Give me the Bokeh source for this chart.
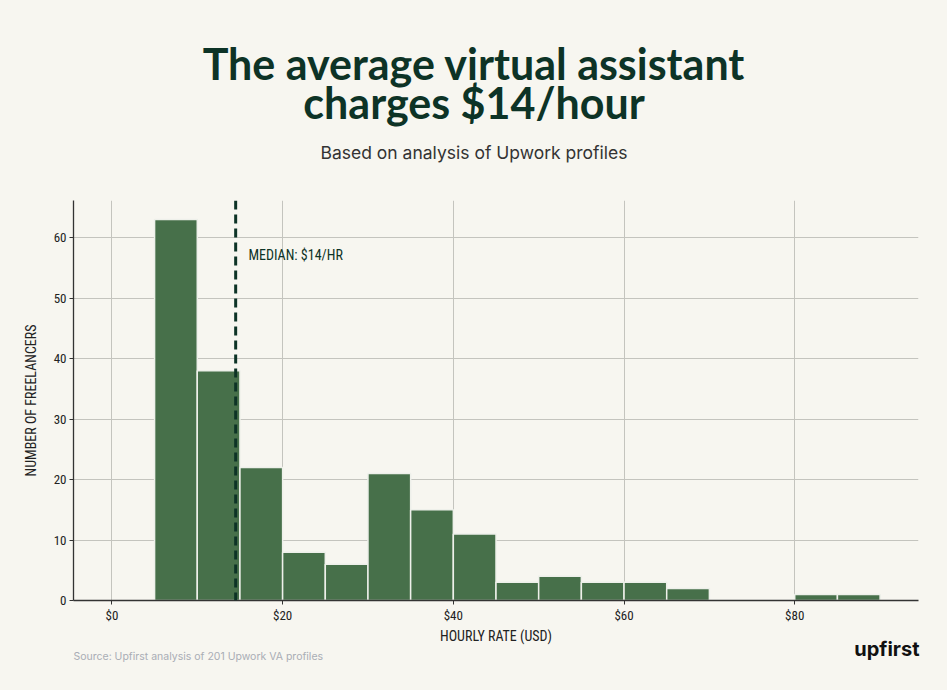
from bokeh.plotting import figure
from bokeh.models import Span, Label, FixedTicker, Range1d
from bokeh.layouts import column
from bokeh.embed import file_html
from bokeh.resources import INLINE

# ---- data ----
bin_left = [5, 10, 15, 20, 25, 30, 35, 40, 45, 50, 55, 60, 65, 70, 75, 80, 85]
bin_right = [10, 15, 20, 25, 30, 35, 40, 45, 50, 55, 60, 65, 70, 75, 80, 85, 90]
counts = [63, 38, 22, 8, 6, 21, 15, 11, 3, 4, 3, 3, 2, 0, 0, 1, 1]
median_rate = 14.5
median_text = "MEDIAN: $14/HR"
x_ticks = [0, 20, 40, 60, 80]
x_tick_labels = ["$0", "$20", "$40", "$60", "$80"]
y_ticks = [0, 10, 20, 30, 40, 50, 60]
x_label = "HOURLY RATE (USD)"
y_label = "NUMBER OF FREELANCERS"
title_line1 = "The average virtual assistant"
title_line2 = "charges $14/hour"
subtitle = "Based on analysis of Upwork profiles"
source = "Source: Upfirst analysis of 201 Upwork VA profiles"
logo = "upfirst"

BG = "#f7f6f0"
DARK = "#0d3326"
NARROW = "'Roboto Condensed', 'Liberation Sans Narrow', 'DejaVu Sans Condensed', sans-serif"

W = 947
TOP_H, MAIN_H = 200, 425
BOT_H = 690 - TOP_H - MAIN_H
L, R = 73, 29


def strip(h):
    f = figure(width=W, height=h, output_backend="svg", toolbar_location=None,
               x_range=Range1d(0, W), y_range=Range1d(h, 0), title=None,
               x_axis_type=None, y_axis_type=None, min_border=0,
               background_fill_color=BG, border_fill_color=BG, frame_align=False)
    f.outline_line_color = None
    f.grid.visible = False
    return f


def text_at(fig, x, baseline, text, size, **kw):
    # place text so its alphabetic baseline lands at the given canvas row
    fig.add_layout(Label(x=x, y=baseline - 0.4 * size, text=text,
                         text_font_size=f"{size}px", text_baseline="alphabetic", **kw))


# ---- header ----
top = strip(TOP_H)
text_at(top, W / 2, 80, title_line1, 43, text_font="Lato", text_font_style="bold",
        text_color=DARK, text_align="center")
text_at(top, W / 2, 119, title_line2, 43, text_font="Lato", text_font_style="bold",
        text_color=DARK, text_align="center")
text_at(top, W / 2, 159, subtitle, 17.5, text_font="Inter",
        text_color="#333333", text_align="center")

# ---- main chart ----
p = figure(width=W, height=MAIN_H, output_backend="svg", toolbar_location=None,
           x_range=Range1d(-4.5, 94.5), y_range=Range1d(0, 66.15),
           min_border_left=L, min_border_right=R, min_border_top=0, min_border_bottom=MAIN_H - 400,
           background_fill_color=BG, border_fill_color=BG, frame_align=False)
p.outline_line_color = None

p.quad(left=bin_left, right=bin_right, top=counts, bottom=0,
       fill_color="#47704a", fill_alpha=1.0, line_color="#eef0ea", line_width=1.5)

p.add_layout(Span(location=median_rate, dimension="height", line_color=DARK,
                  line_width=3, line_dash="9 5"))

p.add_layout(Label(x=median_rate + 1.5, y=57.2, text=median_text, text_font=NARROW,
                   text_font_size="14px", text_color=DARK, text_baseline="middle"))

p.xaxis.ticker = FixedTicker(ticks=x_ticks)
p.xaxis.major_label_overrides = {t: l for t, l in zip(x_ticks, x_tick_labels)}
p.yaxis.ticker = FixedTicker(ticks=y_ticks)
p.yaxis.axis_label = y_label
for ax in (p.xaxis[0], p.yaxis[0]):
    ax.axis_line_color = "#333333"
    ax.axis_line_width = 1.3
    ax.major_tick_line_color = "#333333"
    ax.major_tick_out = 4
    ax.major_tick_in = 0
    ax.minor_tick_line_color = None
    ax.major_label_text_font = NARROW
    ax.major_label_text_font_size = "13px"
    ax.major_label_text_color = "#222222"
    ax.major_label_standoff = 3
    ax.axis_label_text_font = NARROW
    ax.axis_label_text_font_size = "14px"
    ax.axis_label_text_font_style = "normal"
    ax.axis_label_text_color = "#222222"
p.yaxis.axis_label_standoff = 12

p.xgrid.ticker = FixedTicker(ticks=x_ticks)
p.ygrid.ticker = FixedTicker(ticks=y_ticks)
p.grid.grid_line_color = "#c4c4be"
p.grid.grid_line_width = 1
p.grid.level = "underlay"

# ---- footer ----
bot = strip(BOT_H)
y0 = TOP_H + MAIN_H
text_at(bot, (L + W - R) / 2, 641 - y0, x_label, 14, text_font=NARROW,
        text_color="#222222", text_align="center")
text_at(bot, L, 660 - y0, source, 10.5, text_font="Inter",
        text_color="#a9adb5", text_align="left")
text_at(bot, W - R + 1, 656 - y0, logo, 20, text_font="Inter", text_font_style="bold",
        text_color="#111111", text_align="right")

layout = column(top, p, bot, spacing=0, styles={"background-color": BG})
open("out.html", "w").write(file_html(layout, INLINE))
